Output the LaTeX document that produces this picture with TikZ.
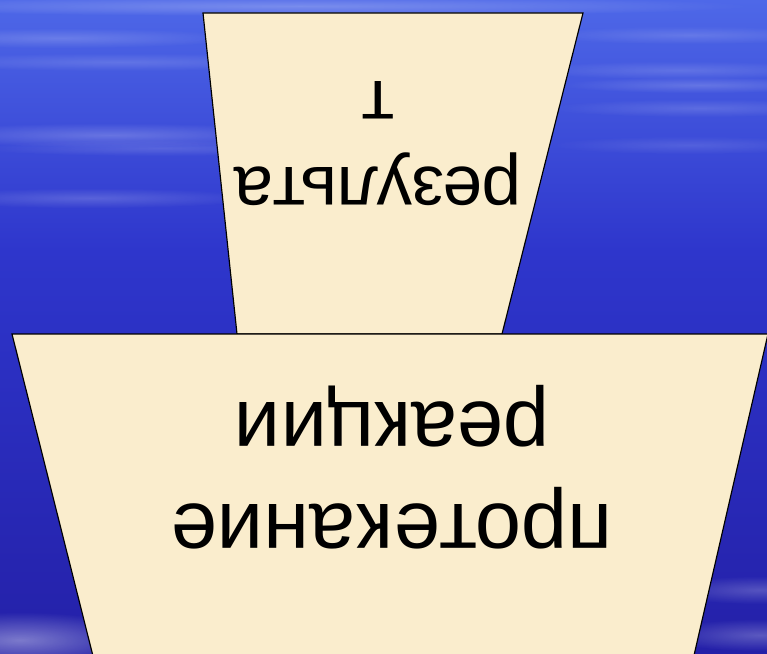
\documentclass[tikz,border=0pt]{standalone}
\usepackage{fontspec}
\setmainfont{Liberation Sans}
\usetikzlibrary{fadings}
\definecolor{cream}{RGB}{250,237,205}
\definecolor{seatop}{RGB}{78,104,232}
\definecolor{seamid}{RGB}{46,54,204}
\definecolor{seadark}{RGB}{36,32,168}
\tikzfading[name=soft, inner color=transparent!0, outer color=transparent!100]
\begin{document}
\begin{tikzpicture}[x=0.03cm, y=-0.03cm]
  \tikzset{plate/.style={draw=black, line width=1pt, fill=cream},
           flipped/.style={rotate=180, align=center, inner sep=0pt},
           streak/.style={fill=white, path fading=soft}}
  \useasboundingbox (0,0) rectangle (767,654);
  \clip (0,0) rectangle (767,654);
  % background
  \shade[top color=seatop, bottom color=seamid] (0,0) rectangle (767,250);
  \shade[top color=seamid, bottom color=seadark] (0,250) rectangle (767,654);
  \fill[streak, opacity=0.25] (300,6) ellipse (450 and 10);
  \fill[streak, opacity=0.18] (60,38) ellipse (180 and 10);
  \fill[streak, opacity=0.15] (120,62) ellipse (220 and 9);
  \fill[streak, opacity=0.22] (110,135) ellipse (200 and 12);
  \fill[streak, opacity=0.15] (160,148) ellipse (180 and 8);
  \fill[streak, opacity=0.18] (90,198) ellipse (170 and 10);
  \fill[streak, opacity=0.15] (690,35) ellipse (150 and 9);
  \fill[streak, opacity=0.15] (680,70) ellipse (160 and 9);
  \fill[streak, opacity=0.18] (700,85) ellipse (140 and 8);
  \fill[streak, opacity=0.15] (700,108) ellipse (150 and 9);
  \fill[streak, opacity=0.12] (690,145) ellipse (140 and 9);
  \fill[streak, opacity=0.40] (20,640) ellipse (130 and 28);
  \fill[streak, opacity=0.22] (760,590) ellipse (100 and 14);
  \fill[streak, opacity=0.25] (760,635) ellipse (100 and 16);
  % plates
  \filldraw[plate] (203,13) -- (583,13) -- (502,334) -- (237,334) -- cycle;
  \filldraw[plate] (12,334) -- (768,334) -- (692,664) -- (95,664) -- cycle;
  % texts
  \node[flipped, font=\fontsize{60.6}{73.4}\selectfont] (result) at (378,144) {результа\\т};
  \node[flipped, font=\fontsize{70.8}{87}\selectfont] (course) at (392,467) {протекание\\реакции};
\end{tikzpicture}
\end{document}
